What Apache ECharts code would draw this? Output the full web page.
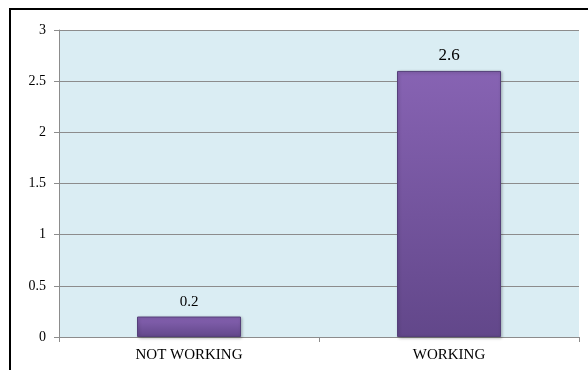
<!DOCTYPE html>
<html>
<head>
<meta charset="utf-8">
<script src="https://cdn.jsdelivr.net/npm/echarts@6/dist/echarts.min.js"></script>
<style>
  html, body { margin: 0; padding: 0; background: #fff; }
  #frame { position: absolute; left: 9px; top: 8px; width: 600px; height: 400px;
           border-left: 2px solid #000; border-top: 2px solid #000; }
  #chart { position: absolute; left: 0; top: 0; width: 588px; height: 370px; }
</style>
</head>
<body>
<div id="frame"></div>
<div id="chart"></div>
<script>
// Categories and values
const categories = ['NOT WORKING', 'WORKING'];
const values = [0.2, 2.6];
const valueLabelSizes = [15, 17];
const yTicks = [0, 0.5, 1, 1.5, 2, 2.5, 3];

const serif = '"Liberation Serif", "Times New Roman", "DejaVu Serif", serif';

const chart = echarts.init(document.getElementById('chart'), null, { renderer: 'canvas' });

const barFill = new echarts.graphic.LinearGradient(0, 0, 0, 1, [
  { offset: 0, color: '#8763b3' },
  { offset: 1, color: '#62478a' }
]);

chart.setOption({
  animation: false,
  grid: {
    left: 59, right: 9, top: 30, bottom: 33,
    show: true, backgroundColor: '#daedf3', borderWidth: 0
  },
  xAxis: {
    type: 'category',
    data: categories,
    axisLine: { lineStyle: { color: '#8c8c8c', width: 1 } },
    axisTick: { show: true, length: 5, lineStyle: { color: '#8c8c8c' } },
    axisLabel: { color: '#000', fontFamily: serif, fontSize: 15, margin: 11 }
  },
  yAxis: {
    type: 'value',
    min: 0, max: 3, interval: 0.5,
    axisLine: { show: true, lineStyle: { color: '#8c8c8c', width: 1 } },
    axisTick: { show: true, length: 5, lineStyle: { color: '#8c8c8c' } },
    splitLine: { lineStyle: { color: '#8c8c8c', width: 1 } },
    axisLabel: {
      color: '#000', fontFamily: serif, fontSize: 14, margin: 13,
      formatter: v => yTicks.includes(v) ? String(v) : ''
    }
  },
  series: [{
    type: 'bar',
    data: values.map((v, i) => ({
      value: v,
      label: { fontSize: valueLabelSizes[i] }
    })),
    barWidth: '40%',
    itemStyle: {
      color: barFill,
      borderColor: '#55407a',
      borderWidth: 1,
      shadowColor: 'rgba(0,0,0,0.25)',
      shadowBlur: 3,
      shadowOffsetX: 1,
      shadowOffsetY: 1
    },
    label: {
      show: true,
      position: 'top',
      distance: 7,
      color: '#000',
      fontFamily: serif,
      formatter: p => String(p.value)
    }
  }]
});
</script>
</body>
</html>
